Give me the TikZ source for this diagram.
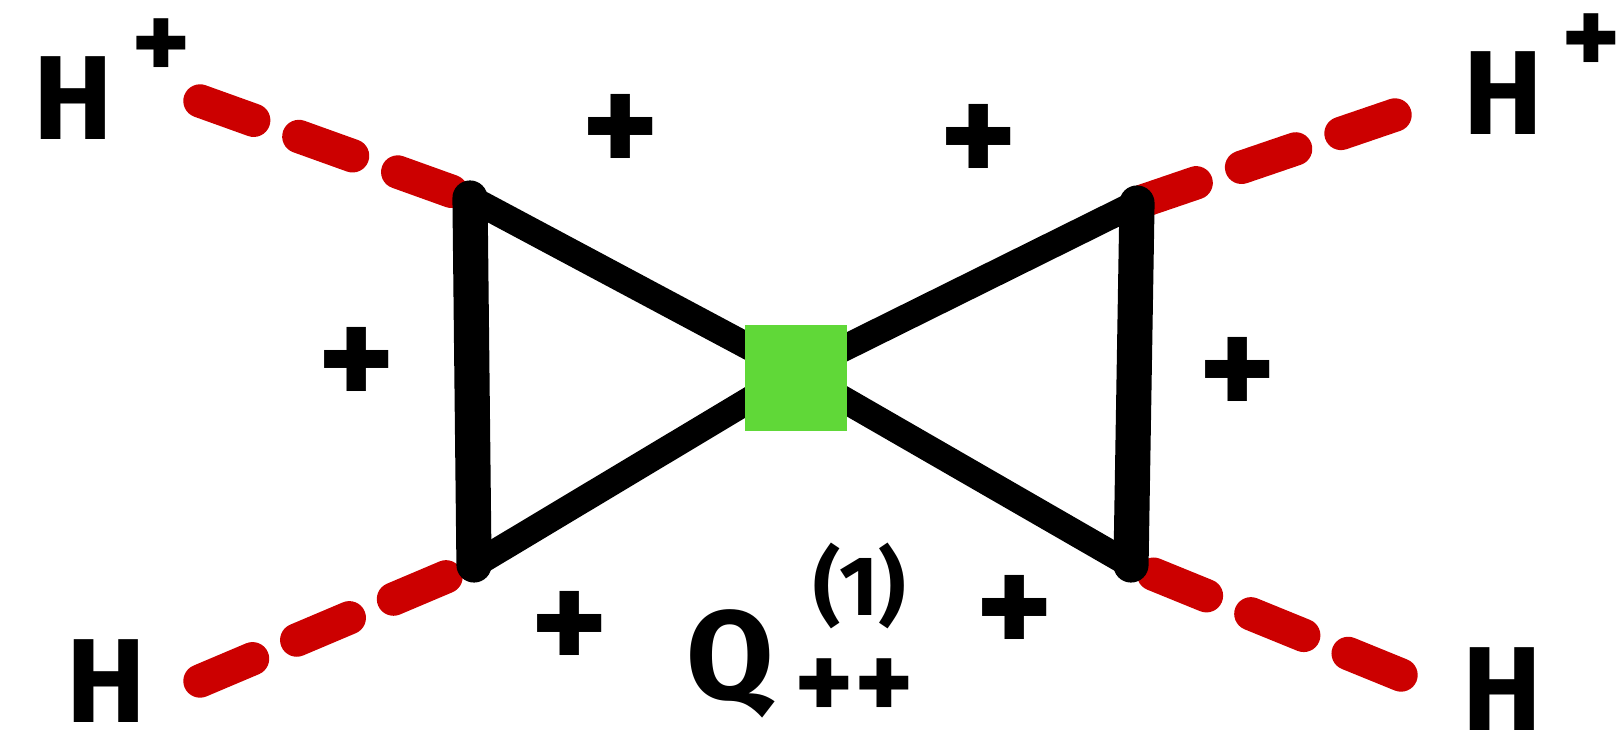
\documentclass[tikz,border=0pt]{standalone}
\usepackage{fontspec}
\setmainfont{Fira Sans}
\usepackage{xcolor}
\usetikzlibrary{positioning}
\definecolor{hred}{RGB}{204,0,0}
\definecolor{opgreen}{RGB}{96,216,56}

\begin{document}
\begin{tikzpicture}[x=0.01cm,y=-0.01cm,
  scalar/.style={draw=hred,line width=9.5pt,line cap=round,dash pattern=on 0.57cm off 0.48cm},
  fermion/.style={draw=black,line width=7.5pt,line cap=round},
  side/.style={fermion,line width=10pt},
  vertex/.style={fill=opgreen,minimum width=1.01cm,minimum height=1.05cm,inner sep=0pt},
  lab/.style={font=\fontsize{34}{40}\selectfont\bfseries,inner sep=2pt},
  sign/.style={font=\fontsize{42}{48}\selectfont\bfseries,inner sep=2pt},
  small/.style={font=\fontsize{24}{28}\selectfont\bfseries,inner sep=1pt}]

\path[use as bounding box] (0,0) rectangle (1624,737);
% vertices and external legs
\coordinate (v1) at (470,198);
\coordinate (v2) at (474,565);
\coordinate (v3) at (1137,203);
\coordinate (v4) at (1131,565);
\coordinate (e1) at (200,101);
\coordinate (e2) at (200,681);
\coordinate (e3) at (1395,115);
\coordinate (e4) at (1401,675);
\coordinate (c) at (796,372);

\draw[scalar] (e1)--(v1);
\draw[scalar] (e2)--(v2);
\draw[scalar] (e3)--(v3);
\draw[scalar] (e4)--(v4);

\draw[side] (v1)--(v2);
\draw[side] (v3)--(v4);
\draw[fermion] (v1)--(c);
\draw[fermion] (v2)--(c);
\draw[fermion] (v3)--(c);
\draw[fermion] (v4)--(c);
\node[vertex] (op) at (796,378) {};

% particle labels
\node[lab,anchor=base west] (h1) at (26,140) {H\hspace{.15em}\raisebox{.5em}{\fontsize{32}{36}\selectfont+}};
\node[lab,anchor=base west] (h3) at (1456,135) {H\hspace{.15em}\raisebox{.5em}{\fontsize{32}{36}\selectfont+}};
\node[lab] (h2) at (106,681) {H};
\node[lab] (h4) at (1502,689) {H};

% charges on the internal lines
\foreach \xx/\yy/\nm in {621/135/s1,979/145/s2,357/368/s3,1238/378/s4,570/632/s5,1015/616/s6}
  \node[sign] (\nm) at (\xx,\yy) {+};

% operator label
\node[lab,font=\fontsize{36}{42}\selectfont\bfseries] (q) at (730,664) {Q};
\node[small] (qsup) at (860,586) {(1)};
\node[small,font=\fontsize{32}{36}\selectfont\bfseries] (qsub) at (854,690) {++};

\end{tikzpicture}
\end{document}
